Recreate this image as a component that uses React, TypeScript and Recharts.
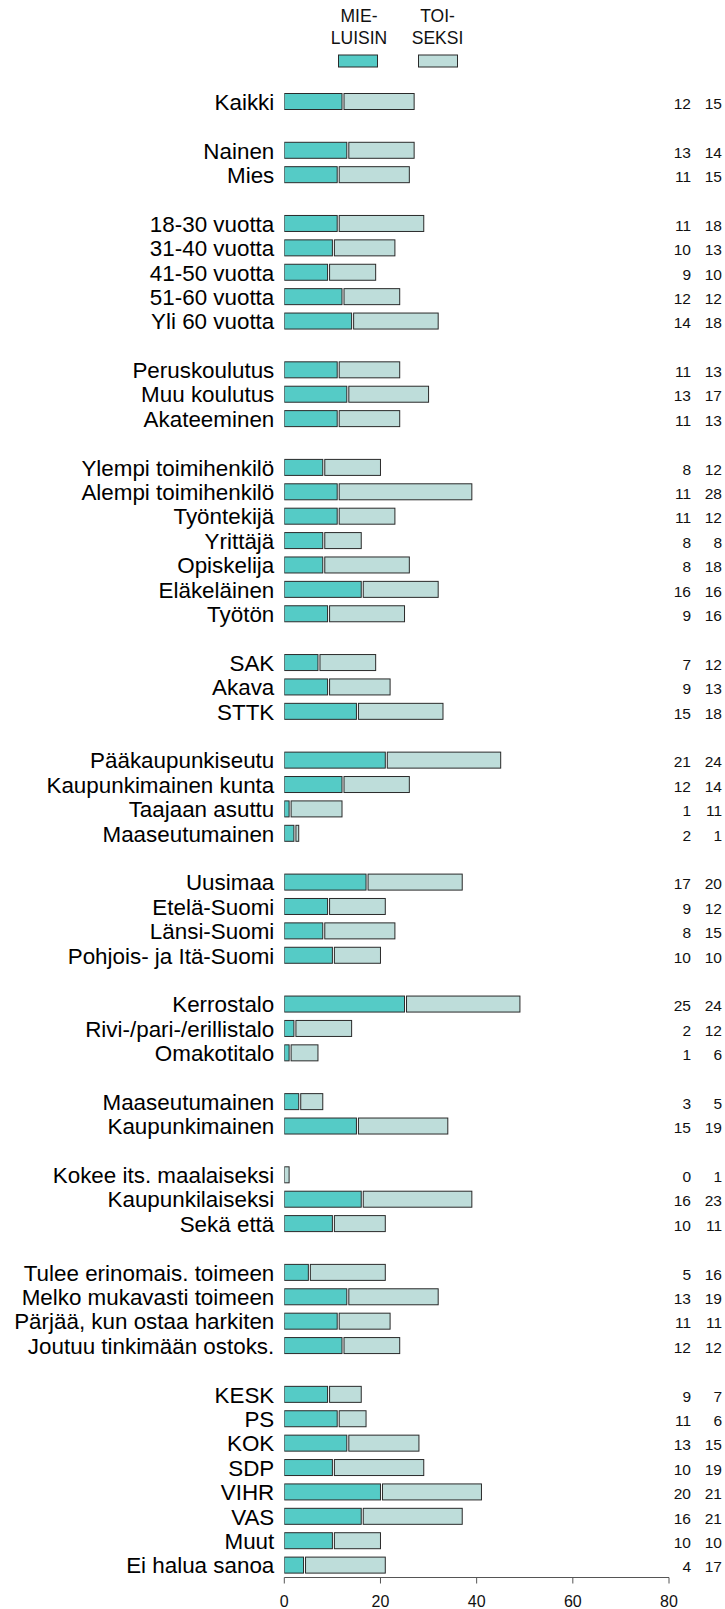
import React from 'react';
import { BarChart, Bar, XAxis, YAxis } from 'recharts';

const W = 725;
const H = 1609;
const TEAL = '#55CBC6';
const LIGHT = '#BEDDDA';
const BORDER = '#2a2a2a';
const AXIS = '#555555';
const FONT = '"Liberation Sans", Arial, sans-serif';

const seriesNames = ['MIE-\nLUISIN', 'TOI-\nSEKSI'];

// '' marks an empty spacer row between groups
const categories: string[] = [
  'Kaikki', '',
  'Nainen', 'Mies', '',
  '18-30 vuotta', '31-40 vuotta', '41-50 vuotta', '51-60 vuotta', 'Yli 60 vuotta', '',
  'Peruskoulutus', 'Muu koulutus', 'Akateeminen', '',
  'Ylempi toimihenkilö', 'Alempi toimihenkilö', 'Työntekijä', 'Yrittäjä', 'Opiskelija', 'Eläkeläinen', 'Työtön', '',
  'SAK', 'Akava', 'STTK', '',
  'Pääkaupunkiseutu', 'Kaupunkimainen kunta', 'Taajaan asuttu', 'Maaseutumainen', '',
  'Uusimaa', 'Etelä-Suomi', 'Länsi-Suomi', 'Pohjois- ja Itä-Suomi', '',
  'Kerrostalo', 'Rivi-/pari-/erillistalo', 'Omakotitalo', '',
  'Maaseutumainen', 'Kaupunkimainen', '',
  'Kokee its. maalaiseksi', 'Kaupunkilaiseksi', 'Sekä että', '',
  'Tulee erinomais. toimeen', 'Melko mukavasti toimeen', 'Pärjää, kun ostaa harkiten', 'Joutuu tinkimään ostoks.', '',
  'KESK', 'PS', 'KOK', 'SDP', 'VIHR', 'VAS', 'Muut', 'Ei halua sanoa',
];

const mieluisin: (number | null)[] = [
  12, null,
  13, 11, null,
  11, 10, 9, 12, 14, null,
  11, 13, 11, null,
  8, 11, 11, 8, 8, 16, 9, null,
  7, 9, 15, null,
  21, 12, 1, 2, null,
  17, 9, 8, 10, null,
  25, 2, 1, null,
  3, 15, null,
  0, 16, 10, null,
  5, 13, 11, 12, null,
  9, 11, 13, 10, 20, 16, 10, 4,
];

const toiseksi: (number | null)[] = [
  15, null,
  14, 15, null,
  18, 13, 10, 12, 18, null,
  13, 17, 13, null,
  12, 28, 12, 8, 18, 16, 16, null,
  12, 13, 18, null,
  24, 14, 11, 1, null,
  20, 12, 15, 10, null,
  24, 12, 6, null,
  5, 19, null,
  1, 23, 11, null,
  16, 19, 11, 12, null,
  7, 6, 15, 19, 21, 21, 10, 17,
];

const xTicks = [0, 20, 40, 60, 80];

const rows = categories.map((name, i) => ({
  id: `r${i}`,
  name,
  mie: mieluisin[i],
  toi: toiseksi[i],
}));

const idxOf = (v: any) => Number(String(v).slice(1));

function LeftTick(props: any) {
  const { x, y, payload } = props;
  const label = categories[idxOf(payload?.value)];
  if (!label) return <g />;
  return (
    <text x={x} y={y} dy="0.36em" textAnchor="end" fontSize={22.4} fill="#000" fontFamily={FONT}>
      {label}
    </text>
  );
}

function RightTick(props: any) {
  const { x, y, payload } = props;
  const i = idxOf(payload?.value);
  if (!categories[i]) return <g />;
  return (
    <g fontSize={15.5} fill="#111" fontFamily={FONT}>
      <text x={x + 22} y={y + 1.5} dy="0.36em" textAnchor="end">{mieluisin[i]}</text>
      <text x={x + 53} y={y + 1.5} dy="0.36em" textAnchor="end">{toiseksi[i]}</text>
    </g>
  );
}

const MieShape = (p: any) => {
  const { x, y, width, height } = p;
  if (!width || width <= 0) return <g />;
  return <rect x={x} y={y} width={width} height={height} fill={TEAL} stroke={BORDER} strokeWidth={1} />;
};

const ToiShape = (p: any) => {
  const { x, y, width, height } = p;
  if (!width || width <= 0) return <g />;
  const inset = p.payload && p.payload.mie > 0 ? 2 : 0;
  return (
    <rect x={x + inset} y={y} width={Math.max(width - inset, 0.5)} height={height} fill={LIGHT} stroke={BORDER} strokeWidth={1} />
  );
};

function LegendOverlay() {
  const items = [
    { label: seriesNames[0], color: TEAL, cx: 359, bx: 338.5, bw: 39 },
    { label: seriesNames[1], color: LIGHT, cx: 437.5, bx: 418.5, bw: 39 },
  ];
  return (
    <svg width={W} height={80} style={{ position: 'absolute', left: 0, top: 0, pointerEvents: 'none' }}>
      {items.map((it) => {
        const lines = it.label.split('\n');
        return (
          <g key={it.label}>
            {lines.map((ln, k) => (
              <text key={k} x={it.cx} y={21.5 + k * 22} textAnchor="middle" fontSize={17.5} fill="#111" fontFamily={FONT}>
                {ln}
              </text>
            ))}
            <rect x={it.bx} y={55} width={it.bw} height={12} fill={it.color} stroke={BORDER} strokeWidth={1} />
          </g>
        );
      })}
    </svg>
  );
}

export default function App() {
  return (
    <div style={{ position: 'absolute', left: 0, top: 0, width: W, height: H, background: '#fff' }}>
      <BarChart
        width={W}
        height={H}
        data={rows}
        layout="vertical"
        margin={{ top: 89.5, right: 0, bottom: 0, left: 0 }}
        barSize={16}
      >
        <XAxis
          type="number"
          domain={[0, 80]}
          ticks={xTicks}
          allowDataOverflow
          height={31.5}
          tickSize={6}
          tickMargin={12}
          axisLine={{ stroke: AXIS }}
          tickLine={{ stroke: AXIS }}
          tick={{ fill: '#111', fontSize: 16, fontFamily: FONT }}
        />
        <YAxis
          yAxisId="left"
          type="category"
          dataKey="id"
          width={284.3}
          interval={0}
          axisLine={false}
          tickLine={false}
          tickSize={0}
          tickMargin={10}
          tick={<LeftTick />}
        />
        <YAxis
          yAxisId="right"
          orientation="right"
          type="category"
          dataKey="id"
          width={56}
          interval={0}
          axisLine={false}
          tickLine={false}
          tickSize={0}
          tickMargin={0}
          tick={<RightTick />}
        />
        <Bar yAxisId="left" dataKey="mie" stackId="a" fill={TEAL} shape={MieShape} isAnimationActive={false} />
        <Bar yAxisId="left" dataKey="toi" stackId="a" fill={LIGHT} shape={ToiShape} isAnimationActive={false} />
      </BarChart>
      <LegendOverlay />
    </div>
  );
}
